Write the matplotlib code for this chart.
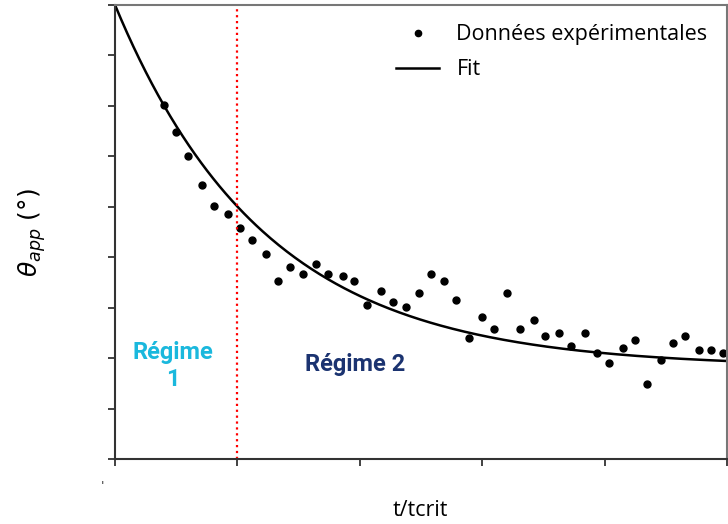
import numpy as np
import matplotlib
matplotlib.use("Agg")
import matplotlib.pyplot as plt

t_exp = [0.40, 0.50, 0.60, 0.71, 0.81, 0.92, 1.02, 1.12, 1.23, 1.33,
         1.43, 1.54, 1.64, 1.74, 1.86, 1.95, 2.06, 2.17, 2.27, 2.38,
         2.48, 2.58, 2.69, 2.79, 2.89, 3.00, 3.10, 3.20, 3.31, 3.42,
         3.51, 3.63, 3.73, 3.84, 3.94, 4.04, 4.15, 4.25, 4.35, 4.46,
         4.56, 4.66, 4.77, 4.87, 4.97]
theta_exp = [7.02, 6.48, 6.01, 5.43, 5.01, 4.86, 4.57, 4.35, 4.06, 3.52,
             3.81, 3.67, 3.87, 3.67, 3.62, 3.52, 3.05, 3.34, 3.11, 3.01,
             3.30, 3.67, 3.52, 3.15, 2.39, 2.81, 2.57, 3.30, 2.57, 2.76,
             2.44, 2.49, 2.25, 2.49, 2.10, 1.90, 2.20, 2.35, 1.49, 1.96,
             2.29, 2.44, 2.16, 2.16, 2.10]

# fit parameters: theta = A + B * exp(-t / tau)
fit_A = 1.82
fit_B = 7.18
fit_tau = 1.23

t_crit_line = 1.0

t_fit = np.linspace(0, 5, 300)
theta_fit = fit_A + fit_B * np.exp(-t_fit / fit_tau)

fig = plt.figure(figsize=(7.28, 5.24), dpi=100)
ax = fig.add_axes([0.158, 0.124, 0.8405, 0.8665])

ax.plot(t_exp, theta_exp, "o", color="black", markersize=5, label="Données expérimentales")
ax.plot(t_fit, theta_fit, "-", color="black", lw=1.8, label="Fit")
ax.axvline(t_crit_line, color="red", ls=":", lw=1.6)

ax.set_xlim(0, 5)
ax.set_ylim(0, 9)
ax.set_xticks(np.arange(0, 6, 1))
ax.set_yticks(np.arange(0, 10, 1))
ax.set_xticklabels([])
ax.set_yticklabels([])
ax.tick_params(direction="out", length=5, width=1.3, color="#333333")

for side in ["left", "bottom"]:
    ax.spines[side].set_linewidth(1.5)
    ax.spines[side].set_color("#333333")
for side in ["top", "right"]:
    ax.spines[side].set_linewidth(1.5)
    ax.spines[side].set_color("#777777")

# axis titles placed by hand
fig.text(32 / 728, 1 - 233 / 524, r"$\theta_{app}$ (°)", fontsize=18, rotation=90,
         ha="center", va="center")
fig.text(420 / 728, 1 - 510 / 524, "t/tcrit", fontsize=15.5, family="Open Sans",
         ha="center", va="center")
fig.text(102 / 728, 1 - 486 / 524, "'", fontsize=9, color="#333333",
         ha="center", va="center")

ax.text(0.47, 1.84, "Régime\n1", color="#1AB8DD", fontsize=17, family="Roboto",
        fontweight="bold", ha="center", va="center", linespacing=1.25)
ax.text(1.96, 1.87, "Régime 2", color="#1B3370", fontsize=17, family="Roboto",
        fontweight="bold", ha="center", va="center")

leg = ax.legend(loc="upper right", frameon=False, prop={"family": "Open Sans", "size": 15.5},
                handlelength=2.0, handletextpad=0.8, borderaxespad=0.5, labelspacing=0.65,
                markerscale=0.9)

fig.savefig("out.png", dpi=100)
